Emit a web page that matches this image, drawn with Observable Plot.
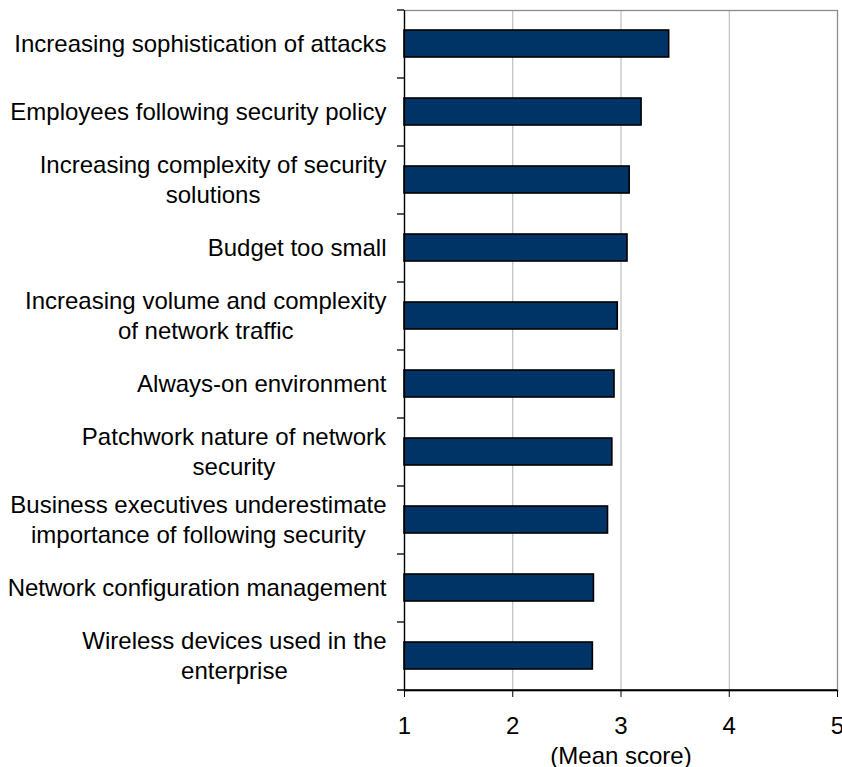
<!DOCTYPE html>
<html>
<head>
<meta charset="utf-8">
<script src="https://cdn.jsdelivr.net/npm/d3@7"></script>
<script src="https://cdn.jsdelivr.net/npm/@observablehq/plot@0.6"></script>
<style>
  html, body { margin: 0; padding: 0; background: #fff; }
  #chart svg { display: block; }
</style>
</head>
<body>
<div id="chart"></div>
<script>
const categories = [
  "Increasing sophistication of attacks",
  "Employees following security policy",
  "Increasing complexity of security\nsolutions",
  "Budget too small",
  "Increasing volume and complexity\nof network traffic",
  "Always-on environment",
  "Patchwork nature of network\nsecurity",
  "Business executives underestimate\nimportance of following security",
  "Network configuration management",
  "Wireless devices used in the\nenterprise"
];
const meanScores = [3.445, 3.19, 3.08, 3.06, 2.97, 2.94, 2.92, 2.88, 2.75, 2.74];
const xTicks = [1, 2, 3, 4, 5];
const xLabel = "(Mean score)";

const data = categories.map((c, i) => ({category: c, value: meanScores[i]}));

const W = 842, H = 767;
const mL = 404, mR = 5, mT = 10, mB = 77;
const plotW = W - mL - mR;
const step = (H - mT - mB) / categories.length;
const font = "Liberation Sans, Arial, Helvetica, sans-serif";

const chart = Plot.plot({
  width: W,
  height: H,
  marginLeft: mL,
  marginRight: mR,
  marginTop: mT,
  marginBottom: mB,
  style: {fontFamily: font, fontSize: "24px", color: "#000", background: "#fff", overflow: "visible"},
  x: {domain: [1, 5], ticks: xTicks},
  y: {domain: categories, paddingInner: 0.6, paddingOuter: 0.3},
  marks: [
    Plot.gridX(xTicks, {stroke: "#b4b4b4", strokeOpacity: 1, strokeWidth: 1}),
    Plot.frame({stroke: "#8c8c8c", strokeWidth: 1.3}),
    Plot.barX(data, {y: "category", x1: 1, x2: "value", fill: "#003366", stroke: "#000", strokeWidth: 1.6}),
    Plot.ruleX([1], {stroke: "#000", strokeWidth: 1.3}),
    Plot.frame({anchor: "bottom", stroke: "#000", strokeWidth: 1.3}),
    Plot.ruleY(categories, {y: d => d, dy: -step / 2, insetLeft: -7, insetRight: plotW, stroke: "#000", strokeWidth: 1.3}),
    Plot.ruleY(categories.slice(-1), {y: d => d, dy: step / 2, insetLeft: -7, insetRight: 0, stroke: "#000", strokeWidth: 1.3}),
    Plot.axisX({ticks: xTicks, tickFormat: d3.format("d"), tickSize: 7, tickPadding: 19, label: null, stroke: "#000", fontSize: 24}),
    Plot.axisY({tickSize: 0, tickPadding: 18, label: null, lineHeight: 1.27, fontSize: 24, dy: -2}),
    Plot.text([xLabel], {frameAnchor: "bottom", dy: 73, text: d => d, fontSize: 24, fill: "#000"})
  ]
});

document.getElementById("chart").append(chart);

// Center the lines of wrapped labels within their right-aligned block
chart.querySelectorAll('g[aria-label="y-axis tick label"] text').forEach(t => {
  const spans = t.querySelectorAll("tspan");
  if (spans.length > 1) {
    const w = t.getBBox().width;
    t.setAttribute("text-anchor", "middle");
    spans.forEach(s => s.setAttribute("x", -w / 2));
  }
});
</script>
</body>
</html>
